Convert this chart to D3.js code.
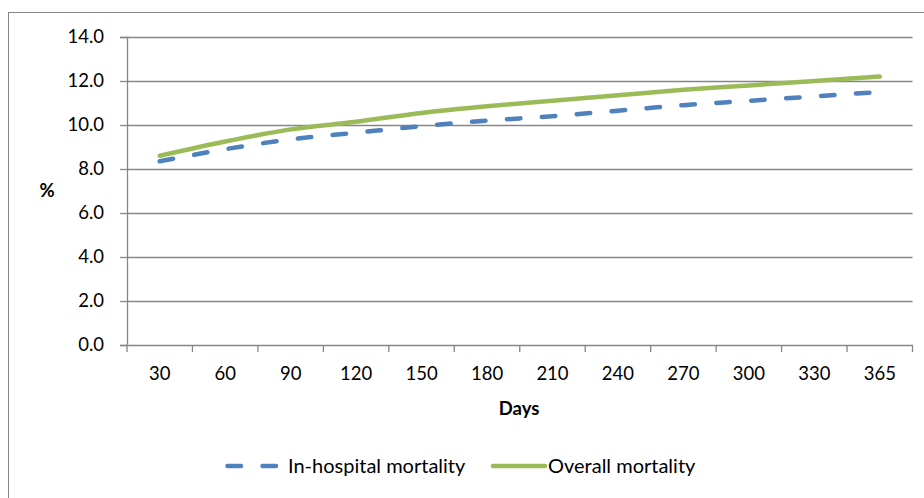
<!DOCTYPE html>
<html>
<head>
<meta charset="utf-8">
<script src="https://cdn.jsdelivr.net/npm/d3@7"></script>
<style>
  body { margin: 0; background: #fff; }
  text { font-family: Lato, "Open Sans", sans-serif; fill: #000; }
</style>
</head>
<body>
<svg id="chart" width="924" height="498"></svg>
<script>
const days = ["30", "60", "90", "120", "150", "180", "210", "240", "270", "300", "330", "365"];
const inHospital = [8.35, 8.9, 9.35, 9.65, 9.95, 10.2, 10.4, 10.65, 10.9, 11.1, 11.3, 11.5];
const overall = [8.6, 9.25, 9.8, 10.15, 10.55, 10.85, 11.1, 11.35, 11.6, 11.8, 12.0, 12.2];
const yTicks = [0, 2, 4, 6, 8, 10, 12, 14];
const seriesNames = ["In-hospital mortality", "Overall mortality"];

const svg = d3.select("#chart");
const plotLeft = 127, plotRight = 912.5, plotTop = 37, plotBottom = 345;

// outer chart border
svg.append("rect")
  .attr("x", 8.5).attr("y", 12.5).attr("width", 930).attr("height", 500)
  .attr("fill", "none").attr("stroke", "#868686").attr("stroke-width", 1);

const x = d3.scaleBand().domain(days).range([plotLeft, plotRight]);
const y = d3.scaleLinear().domain([0, 14]).range([plotBottom, plotTop]);

// gridlines
svg.append("g").selectAll("line").data(yTicks.filter(d => d > 0)).join("line")
  .attr("x1", plotLeft).attr("x2", plotRight)
  .attr("y1", d => Math.round(y(d)) + 0.5).attr("y2", d => Math.round(y(d)) + 0.5)
  .attr("stroke", "#868686").attr("stroke-width", 1.3);

// y axis
const yAxis = d3.axisLeft(y).tickValues(yTicks).tickFormat(d3.format(".1f")).tickSize(7).tickPadding(16);
const gy = svg.append("g").attr("transform", `translate(${plotLeft},0)`).call(yAxis);
gy.select(".domain").attr("stroke", "#868686").attr("stroke-width", 1.3);
gy.selectAll(".tick line").attr("stroke", "#868686").attr("stroke-width", 1.3);
gy.selectAll(".tick text").style("font-size", "18.5px").style("font-family", "Lato, sans-serif").attr("fill", "#000");

// x axis
const xAxis = d3.axisBottom(x).tickSize(0).tickPadding(22);
const gx = svg.append("g").attr("transform", `translate(0,${plotBottom})`).call(xAxis);
gx.select(".domain").attr("stroke", "#868686").attr("stroke-width", 1.3);
gx.selectAll(".tick text").style("font-size", "18.5px").style("font-family", "Lato, sans-serif").attr("fill", "#000");
// category boundary ticks
const bounds = days.map(d => x(d)).concat([x(days[days.length - 1]) + x.bandwidth()]);
svg.append("g").selectAll("line").data(bounds).join("line")
  .attr("x1", d => d).attr("x2", d => d).attr("y1", plotBottom).attr("y2", plotBottom + 7)
  .attr("stroke", "#868686").attr("stroke-width", 1.3);

// lines
const line = d3.line()
  .x((d, i) => x(days[i]) + x.bandwidth() / 2)
  .y(d => y(d))
  .curve(d3.curveMonotoneX);

svg.append("path").datum(overall)
  .attr("d", line).attr("fill", "none")
  .attr("stroke", "#9BBB59").attr("stroke-width", 4.5).attr("stroke-linecap", "round");

svg.append("path").datum(inHospital)
  .attr("d", line).attr("fill", "none")
  .attr("stroke", "#4F81BD").attr("stroke-width", 4.5).attr("stroke-linecap", "round")
  .attr("stroke-dasharray", "13.5,21.5");

// axis titles
svg.append("text").attr("x", 519).attr("y", 415).attr("text-anchor", "middle")
  .style("font-size", "18.5px").style("font-weight", "bold").text("Days");
svg.append("text").attr("x", 47).attr("y", 197).attr("text-anchor", "middle")
  .style("font-size", "18.5px").style("font-weight", "bold").text("%");

// legend
const legend = svg.append("g");
legend.append("line").attr("x1", 227.5).attr("x2", 278).attr("y1", 466).attr("y2", 466)
  .attr("stroke", "#4F81BD").attr("stroke-width", 4.5).attr("stroke-linecap", "round")
  .attr("stroke-dasharray", "13.5,21.5");
legend.append("text").attr("x", 288).attr("y", 473).style("font-size", "20px").text(seriesNames[0]);
legend.append("line").attr("x1", 493).attr("x2", 545).attr("y1", 466).attr("y2", 466)
  .attr("stroke", "#9BBB59").attr("stroke-width", 4.5).attr("stroke-linecap", "round");
legend.append("text").attr("x", 548).attr("y", 473).style("font-size", "20px").text(seriesNames[1]);
</script>
</body>
</html>
